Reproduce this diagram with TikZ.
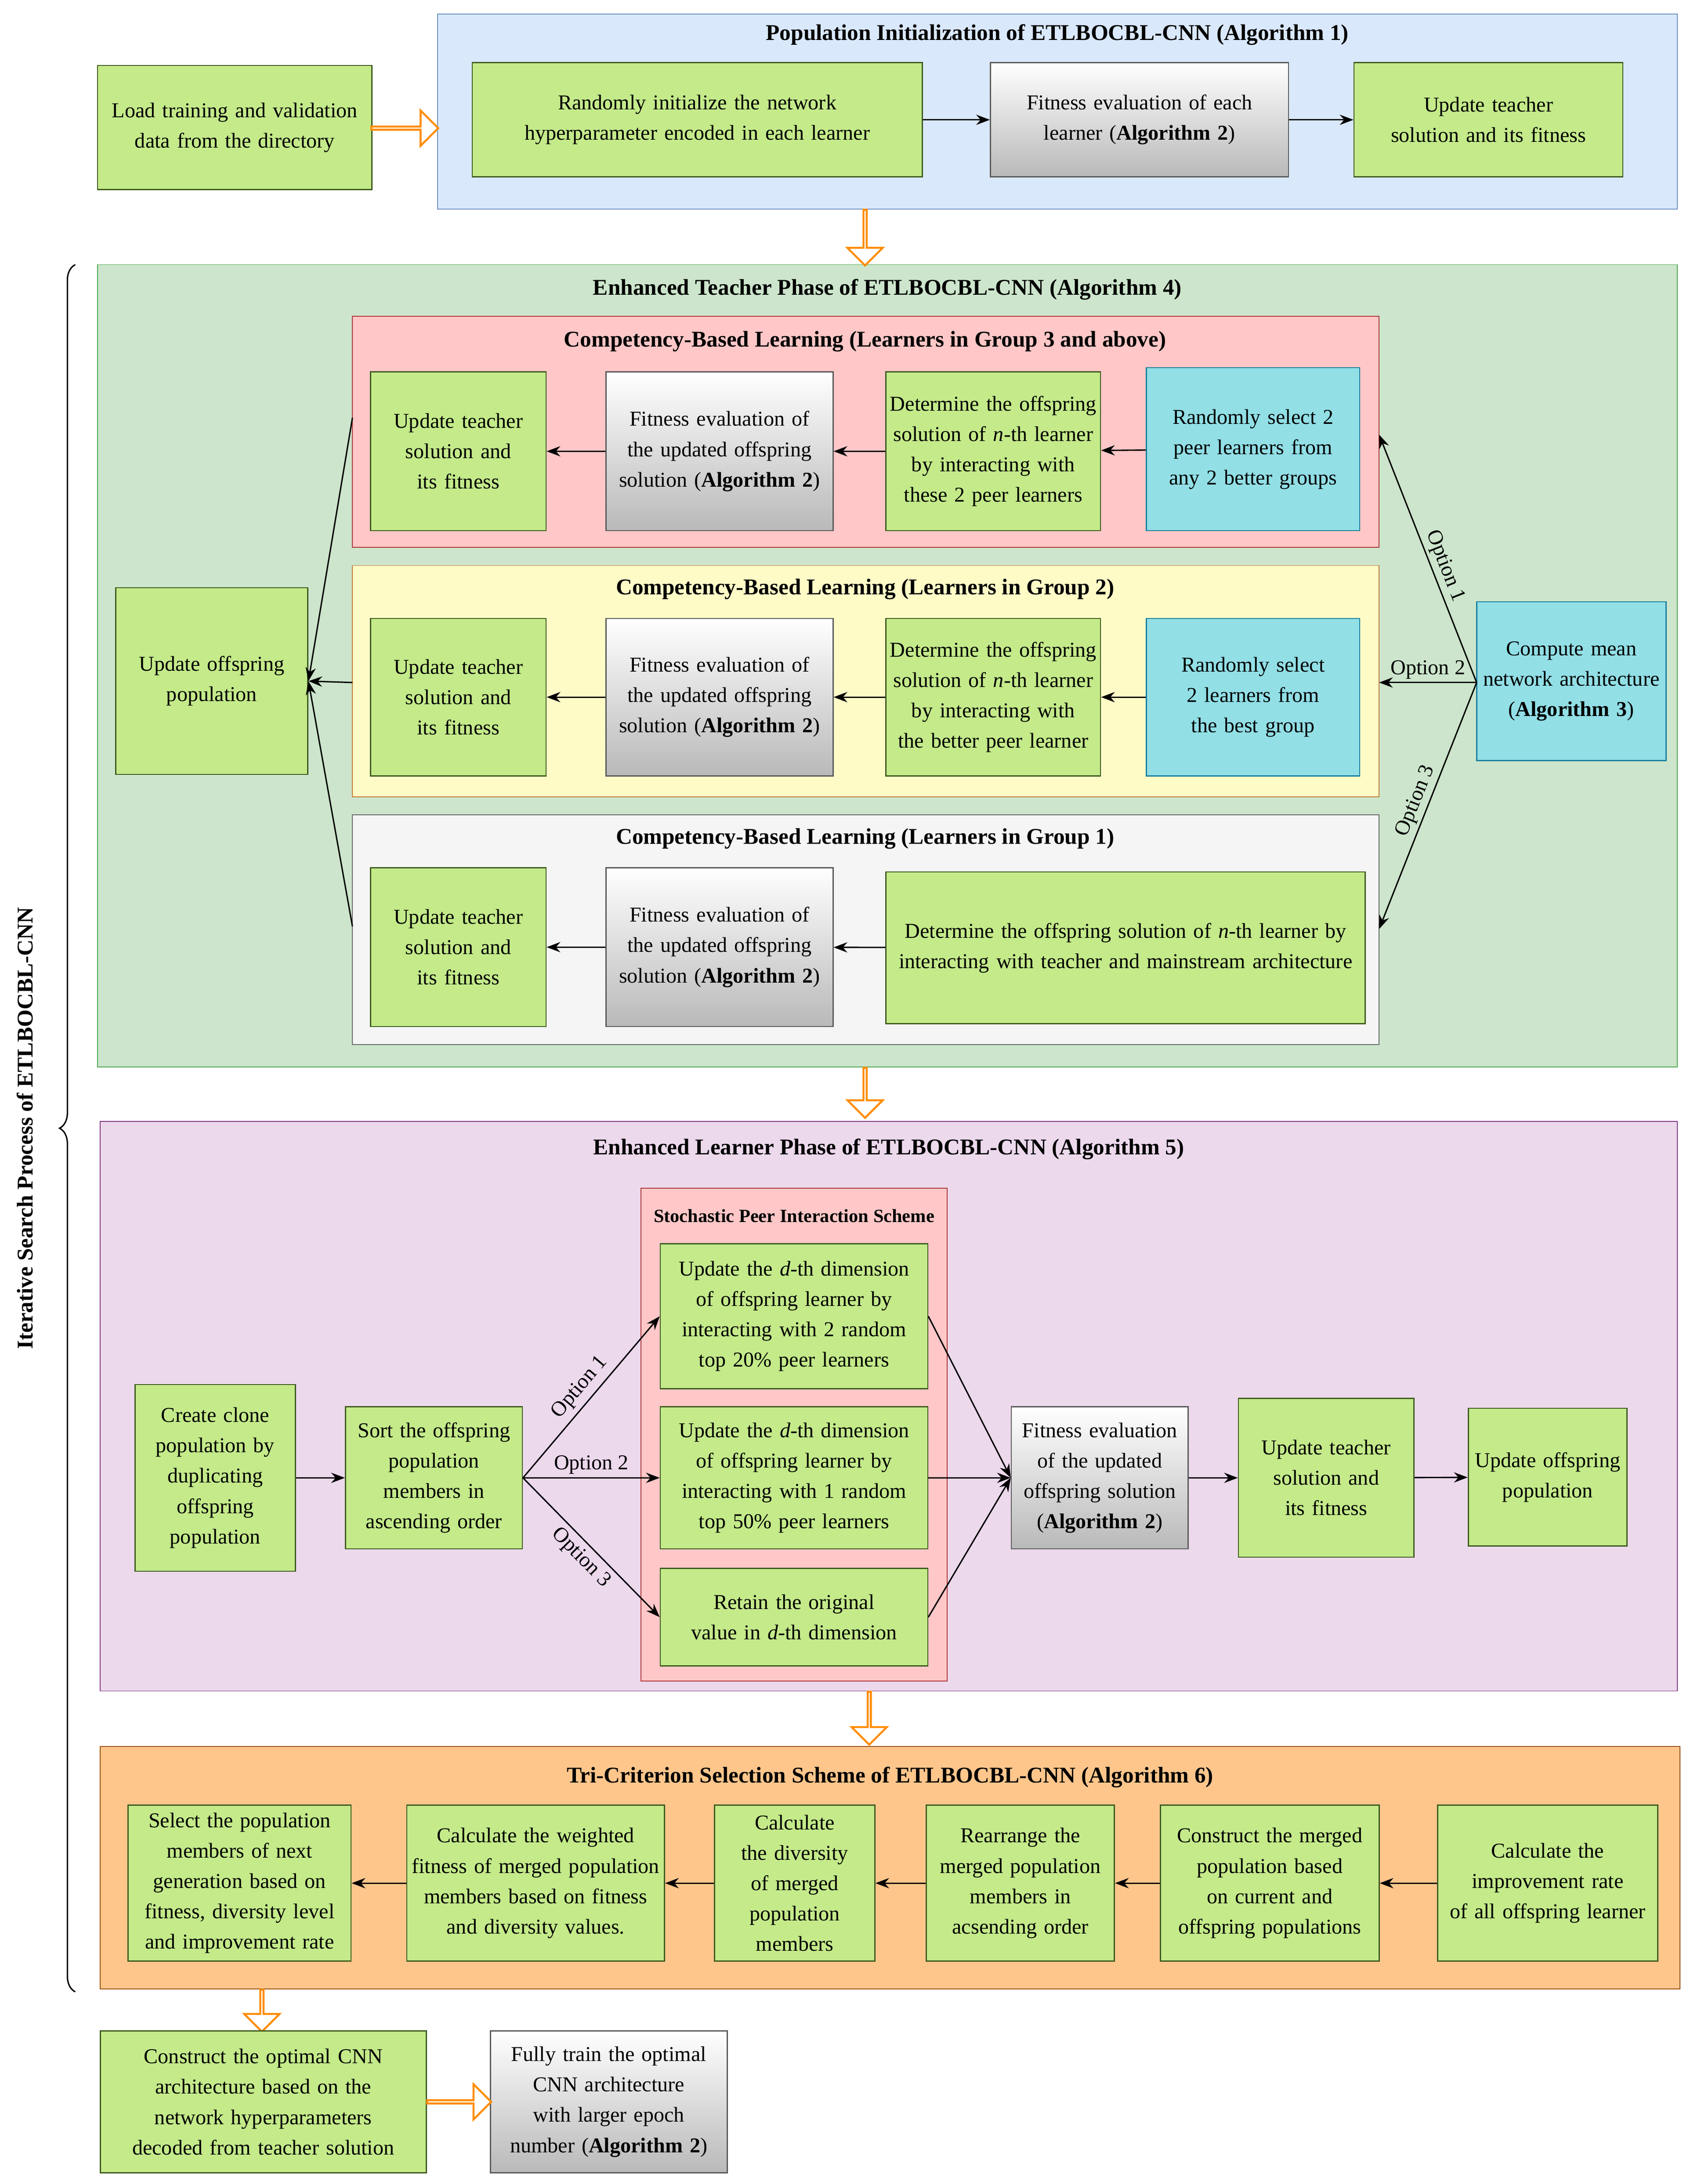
\documentclass[tikz,border=0pt]{standalone}
\usepackage{fontspec}
\setmainfont{Liberation Serif}
\usetikzlibrary{arrows.meta,shapes.arrows,decorations.pathreplacing}
\definecolor{gbox}{HTML}{C4EA8A}
\definecolor{gline}{HTML}{3D5A1E}
\definecolor{cbox}{HTML}{92DFE6}
\definecolor{cline}{HTML}{1A7F9E}
\definecolor{bluec}{HTML}{DAE8FC}
\definecolor{bluel}{HTML}{6C8EBF}
\hyphenpenalty=10000
\exhyphenpenalty=10000
\newcommand\bx[7]{\node[#6, minimum width={(#4-#2)*0.025cm}, minimum height={(#5-#3)*0.025cm}, text width={(#4-#2)*0.025cm-2pt}] (#1) at ({(#2+#4)/2},{(#3+#5)/2}) {#7};}
\begin{document}
\begin{tikzpicture}[x=0.025cm,y=-0.025cm,
 every node/.style={font=\fontsize{10.8}{15.5}\selectfont, inner sep=0.5pt},
 g/.style={draw=gline, fill=gbox, align=center, line width=0.6pt},
 gr/.style={draw=gray!70!black, top color=white, bottom color=gray!55, align=center, line width=0.6pt},
 cy/.style={draw=cline, fill=cbox, align=center, line width=0.6pt},
 ttl/.style={font=\fontsize{11.5}{14}\selectfont\bfseries},
 ar/.style={-{Stealth[length=7pt]}, line width=0.7pt},
 hol/.style={single arrow, draw=orange!90!yellow, fill=white, line width=1pt, minimum height=#1, single arrow head extend=5pt, minimum width=18pt, inner sep=0pt}]
\useasboundingbox (0,0) rectangle (1216,1568);
% containers
\filldraw[draw=bluel, fill=bluec] (314,10) rectangle (1204,150);
\node[ttl] (t1) at (759,25) {Population Initialization of ETLBOCBL-CNN (Algorithm 1)};
\filldraw[draw=green!50!black!70, fill=green!50!black!20] (70,190) rectangle (1204,766);
\node[ttl] (t2) at (637,208) {Enhanced Teacher Phase of ETLBOCBL-CNN (Algorithm 4)};
\filldraw[draw=red!60!black!80, fill=red!22] (253,227) rectangle (990,393);
\node[ttl] (t3) at (621,245) {Competency-Based Learning (Learners in Group 3 and above)};
\filldraw[draw=orange!70!black!80, fill=orange!15!yellow!22] (253,406) rectangle (990,572);
\node[ttl] (t4) at (621,423) {Competency-Based Learning (Learners in Group 2)};
\filldraw[draw=gray!80!black, fill=gray!8] (253,585) rectangle (990,750);
\node[ttl] (t5) at (621,602) {Competency-Based Learning (Learners in Group 1)};
\filldraw[draw=violet!60!gray, fill=violet!15] (72,805) rectangle (1204,1214);
\node[ttl] (t6) at (638,825) {Enhanced Learner Phase of ETLBOCBL-CNN (Algorithm 5)};
\filldraw[draw=red!60!black!80, fill=red!22] (460,853) rectangle (680,1207);
\node[font=\fontsize{9.5}{11}\selectfont\bfseries] (t7) at (570,873) {Stochastic Peer Interaction Scheme};
\filldraw[draw=orange!60!black, fill=orange!45] (72,1254) rectangle (1206,1428);
\node[ttl] (t8) at (639,1276) {Tri-Criterion Selection Scheme of ETLBOCBL-CNN (Algorithm 6)};
% row 1
\bx{load}{70}{47}{267}{136}{g}{Load training and validation data from the directory}
\bx{rinit}{339}{45}{662}{127}{g}{Randomly initialize the network hyperparameter encoded in each learner}
\bx{fit0}{711}{45}{925}{127}{gr}{Fitness evaluation of each learner (\textbf{Algorithm 2})}
\bx{upd0}{972}{45}{1165}{127}{g}{Update teacher solution and its fitness}
\draw[ar] (rinit) -- (fit0); \draw[ar] (fit0) -- (upd0);
\node[hol=1.2cm] (h1) at (290,92) {};
\node[hol=1cm, rotate=-90] (h2) at (621,170) {};
% teacher phase
\bx{u3}{266}{267}{392}{381}{g}{Update teacher solution and its fitness}
\bx{f3}{435}{267}{598}{381}{gr}{Fitness evaluation of the updated offspring solution (\textbf{Algorithm 2})}
\bx{d3}{636}{267}{790}{381}{g}{Determine the offspring solution of \textit{n}-th learner by interacting with these 2 peer learners}
\bx{r3}{823}{264}{976}{381}{cy}{Randomly select 2 peer learners from any 2 better groups}
\bx{u2}{266}{444}{392}{557}{g}{Update teacher solution and its fitness}
\bx{f2}{435}{444}{598}{557}{gr}{Fitness evaluation of the updated offspring solution (\textbf{Algorithm 2})}
\bx{d2}{636}{444}{790}{557}{g}{Determine the offspring solution of \textit{n}-th learner by interacting with the better peer learner}
\bx{r2}{823}{444}{976}{557}{cy}{Randomly select 2 learners from the best group}
\bx{u1}{266}{623}{392}{737}{g}{Update teacher solution and its fitness}
\bx{f1}{435}{623}{598}{737}{gr}{Fitness evaluation of the updated offspring solution (\textbf{Algorithm 2})}
\bx{d1}{636}{626}{980}{735}{g}{Determine the offspring solution of \textit{n}-th learner by interacting with teacher and mainstream architecture}
\bx{uop}{83}{422}{221}{556}{g}{Update offspring population}
\bx{mean}{1060}{432}{1196}{546}{cy}{Compute mean network architecture (\textbf{Algorithm 3})}
\foreach \a/\b in {r3/d3,d3/f3,f3/u3,r2/d2,d2/f2,f2/u2,d1/f1,f1/u1}{\draw[ar] (\a) -- (\b);}
\coordinate (ml) at (1060,490);
\coordinate (e3) at (990,312); \coordinate (e2) at (990,490); \coordinate (e1) at (990,667);
\draw[ar] (ml) -- (e3) node[pos=0.45, sloped, above=1pt] {Option 1};
\draw[ar] (ml) -- (e2) node[pos=0.5, above=1pt] {Option 2};
\draw[ar] (ml) -- (e1) node[pos=0.5, sloped, above=1pt] {Option 3};
\coordinate (c3) at (253,300); \coordinate (c2) at (253,490); \coordinate (c1) at (253,665);
\draw[ar] (c3) -- (uop.east); \draw[ar] (c2) -- (uop.east); \draw[ar] (c1) -- (uop.east);
\node[hol=0.9cm, rotate=-90] (h3) at (621,784) {};
% learner phase
\bx{s1}{474}{893}{666}{997}{g}{Update the \textit{d}-th dimension of offspring learner by interacting with 2 random top 20\% peer learners}
\bx{s2}{474}{1010}{666}{1112}{g}{Update the \textit{d}-th dimension of offspring learner by interacting with 1 random top 50\% peer learners}
\bx{s3}{474}{1126}{666}{1196}{g}{Retain the original value in \textit{d}-th dimension}
\bx{clone}{97}{994}{212}{1128}{g}{Create clone population by duplicating offspring population}
\bx{sort}{248}{1010}{375}{1112}{g}{Sort the offspring population members in ascending order}
\bx{fe}{726}{1010}{853}{1112}{gr}{Fitness evaluation of the updated offspring solution (\textbf{Algorithm 2})}
\bx{ut}{889}{1004}{1015}{1118}{g}{Update teacher solution and its fitness}
\bx{uo}{1054}{1011}{1168}{1110}{g}{Update offspring population}
\draw[ar] (clone) -- (sort);
\draw[ar] (sort.east) -- (s1.west) node[pos=0.5, sloped, above=2pt] {Option 1};
\draw[ar] (sort.east) -- (s2.west) node[pos=0.5, above=1pt] {Option 2};
\draw[ar] (sort.east) -- (s3.west) node[pos=0.5, sloped, below=2pt] {Option 3};
\draw[ar] (s1.east) -- (fe.west); \draw[ar] (s2.east) -- (fe.west); \draw[ar] (s3.east) -- (fe.west);
\draw[ar] (fe) -- (ut); \draw[ar] (ut) -- (uo);
\node[hol=0.95cm, rotate=-90] (h4) at (624,1233) {};
% selection
\bx{a6}{1032}{1296}{1190}{1408}{g}{Calculate the improvement rate of all offspring learner}
\bx{a5}{833}{1296}{990}{1408}{g}{Construct the merged population based on current and offspring populations}
\bx{a4}{665}{1296}{800}{1408}{g}{Rearrange the merged population members in acsending order}
\bx{a3}{513}{1296}{628}{1408}{g}{Calculate the diversity of merged population members}
\bx{a2}{292}{1296}{477}{1408}{g}{Calculate the weighted fitness of merged population members based on fitness and diversity values.}
\bx{a1}{92}{1296}{252}{1408}{g}{Select the population members of next generation based on fitness, diversity level and improvement rate}
\foreach \a/\b in {a6/a5,a5/a4,a4/a3,a3/a2,a2/a1}{\draw[ar] (\a) -- (\b);}
\node[hol=0.75cm, rotate=-90] (h5) at (188,1443) {};
\bx{opt}{72}{1458}{306}{1560}{g}{Construct the optimal CNN architecture based on the network hyperparameters decoded from teacher solution}
\bx{full}{352}{1458}{522}{1560}{gr}{Fully train the optimal CNN architecture with larger epoch number (\textbf{Algorithm 2})}
\node[hol=1.15cm] (h6) at (329,1509) {};
% brace
\draw[decorate, decoration={brace, amplitude=8pt}, line width=0.7pt] (54,1430) -- (54,190);
\node[ttl, rotate=90] (lbl) at (18,810) {Iterative Search Process of ETLBOCBL-CNN};
\end{tikzpicture}
\end{document}
